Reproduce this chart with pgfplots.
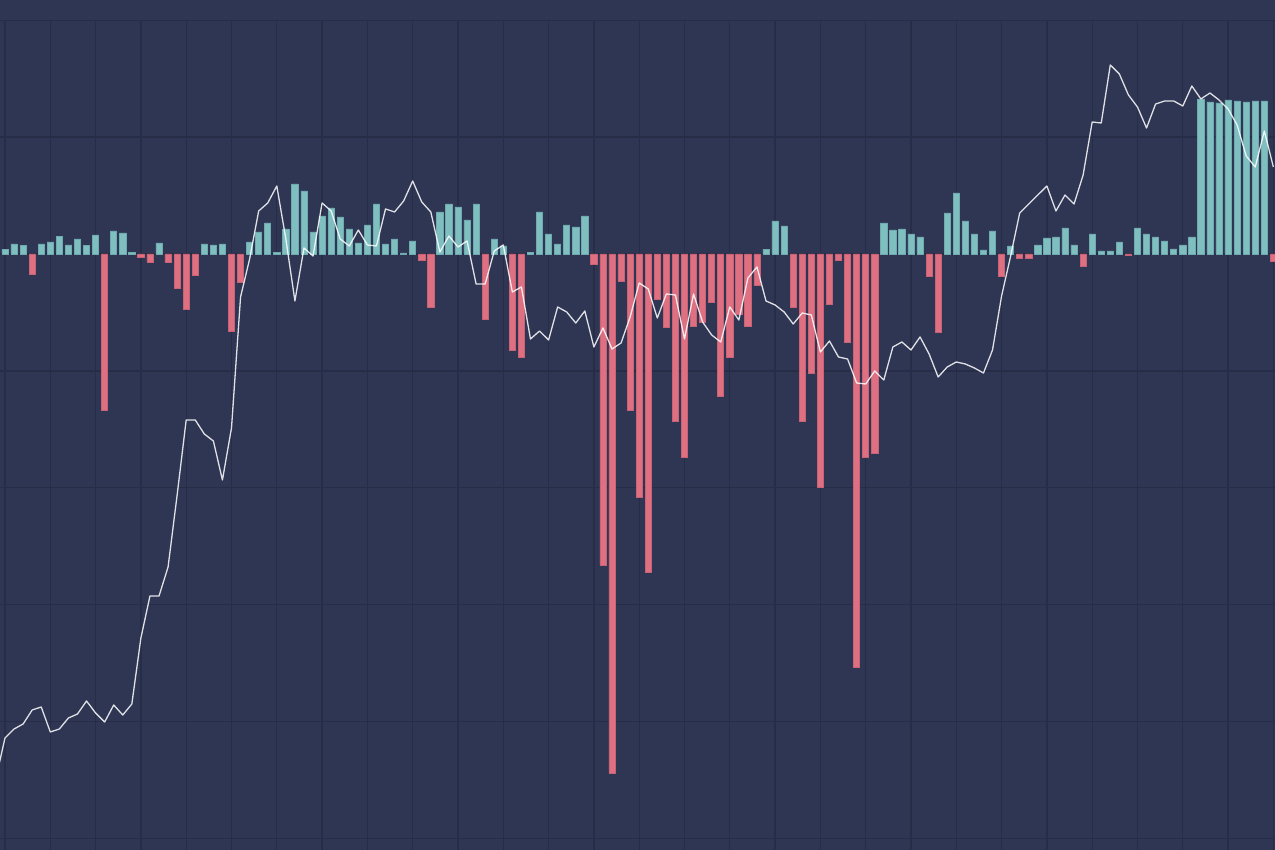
\documentclass[border=0pt]{standalone}
\usepackage{pgfplots}
\pgfplotsset{compat=1.18}
\definecolor{bg}{HTML}{2F3654}
\definecolor{gridc}{HTML}{282D47}
\definecolor{barpos}{HTML}{7FBFC0}
\definecolor{barposedge}{HTML}{6EAAB0}
\definecolor{barneg}{HTML}{DE7082}
\definecolor{barnegedge}{HTML}{C86275}
\begin{document}
\begin{tikzpicture}
\fill[bg] (0,0) rectangle (637.5pt,425pt);
\begin{axis}[at={(0,0)}, anchor=south west, scale only axis,
  width=637.5pt, height=415pt,
  xmin=-0.552, xmax=140.18, ymin=-596, ymax=234,
  axis line style={draw=none},
  xtick={0,5,...,140},
  ytick={-584.5,-467.6,-350.7,-233.8,-116.9,0,116.9,233.8},
  xticklabels={}, yticklabels={},
  major tick length=0pt,
  grid=major, grid style={gridc, line width=0.65pt},
  clip=true]
\addplot[ybar, bar width=3.1pt, bar shift=0pt, fill=barpos, draw=barposedge, line width=0.35pt] coordinates {
(0,4.7) (1,10) (2,8.7) (4,10) (5,12) (6,17.7) (7,9) (8,15) (9,8.7) (10,19)
(12,23) (13,21) (14,1.5) (17,11) (22,10) (23,9) (24,10) (27,12) (28,22) (29,31)
(30,1.5) (31,25) (32,70) (33,63) (34,22) (35,38) (36,46) (37,37) (38,25) (39,11)
(40,29) (41,50) (42,10) (43,15) (44,1) (45,13) (48,42) (49,50) (50,47) (51,34)
(52,50) (54,15) (55,8) (58,1.5) (59,42) (60,20) (61,10) (62,29) (63,27) (64,38)
(84,4.5) (85,33) (86,28) (97,31) (98,24) (99,25) (100,20) (101,17)
(104,41) (105,61) (106,33) (107,20) (108,4) (109,23) (111,8) (114,9) (115,16) (116,17)
(117,26) (118,9) (120,20) (121,3) (122,3) (123,12) (125,26) (126,20) (127,17) (128,13)
(129,5) (130,9) (131,17) (132,155) (133,152) (134,151) (135,154) (136,153) (137,152) (138,153) (139,153)
};
\addplot[ybar, bar width=3.1pt, bar shift=0pt, fill=barneg, draw=barnegedge, line width=0.35pt] coordinates {
(3,-20) (11,-156) (15,-3) (16,-8) (18,-8) (19,-34) (20,-55) (21,-21) (25,-77) (26,-28)
(46,-6) (47,-53) (53,-65) (56,-96) (57,-103) (65,-10) (66,-311) (67,-519) (68,-27) (69,-156)
(70,-243) (71,-318) (72,-45) (73,-73) (74,-167) (75,-203) (76,-72) (77,-68) (78,-48) (79,-142)
(80,-103) (81,-60) (82,-72) (83,-31) (87,-53) (88,-167) (89,-119) (90,-233) (91,-50) (92,-6)
(93,-88) (94,-413) (95,-203) (96,-199) (102,-22) (103,-78) (110,-22) (112,-4) (113,-4) (119,-12)
(124,-1.5) (140,-7)
};
\addplot[white, opacity=0.85, line width=0.65pt, mark=none, line join=round] coordinates {
(-1,-524) (0,-484) (1,-475) (2,-470) (3,-456) (4,-453) (5,-478) (6,-475) (7,-464) (8,-460) (9,-447)
(10,-459) (11,-468) (12,-451) (13,-461) (14,-450) (15,-384) (16,-342) (17,-342) (18,-313) (19,-241)
(20,-166) (21,-166) (22,-180) (23,-187) (24,-226) (25,-174) (26,-43) (27,-5) (28,43) (29,51)
(30,68) (31,15) (32,-47) (33,6) (34,-2) (35,51) (36,43) (37,15) (38,8) (39,24)
(40,9) (41,8) (42,45) (43,42) (44,53) (45,73) (46,52) (47,42) (48,2) (49,18)
(50,7) (51,13) (52,-30) (53,-30) (54,3) (55,9) (56,-38) (57,-33) (58,-85) (59,-77)
(60,-86) (61,-53) (62,-58) (63,-69) (64,-57) (65,-93) (66,-74) (67,-95) (68,-89) (69,-63)
(70,-29) (71,-35) (72,-64) (73,-40) (74,-41) (75,-85) (76,-40) (77,-68) (78,-81) (79,-88)
(80,-53) (81,-66) (82,-24) (83,-13) (84,-47) (85,-51) (86,-58) (87,-70) (88,-59) (89,-61)
(90,-98) (91,-87) (92,-103) (93,-105) (94,-129) (95,-130) (96,-117) (97,-126) (98,-93) (99,-88)
(100,-96) (101,-83) (102,-100) (103,-123) (104,-113) (105,-108) (106,-110) (107,-114) (108,-119) (109,-96)
(110,-42) (111,-2) (112,41) (113,50) (114,59) (115,68) (116,43) (117,59) (118,50) (119,79)
(120,132) (121,131) (122,189) (123,180) (124,159) (125,147) (126,126) (127,150) (128,153) (129,153)
(130,148) (131,168) (132,155) (133,161) (134,154) (135,145) (136,129) (137,98) (138,87) (139,123)
(140,87)
};
\end{axis}
\pgfresetboundingbox
\path[use as bounding box] (0,0) rectangle (637.5pt,425pt);
\end{tikzpicture}
\end{document}
